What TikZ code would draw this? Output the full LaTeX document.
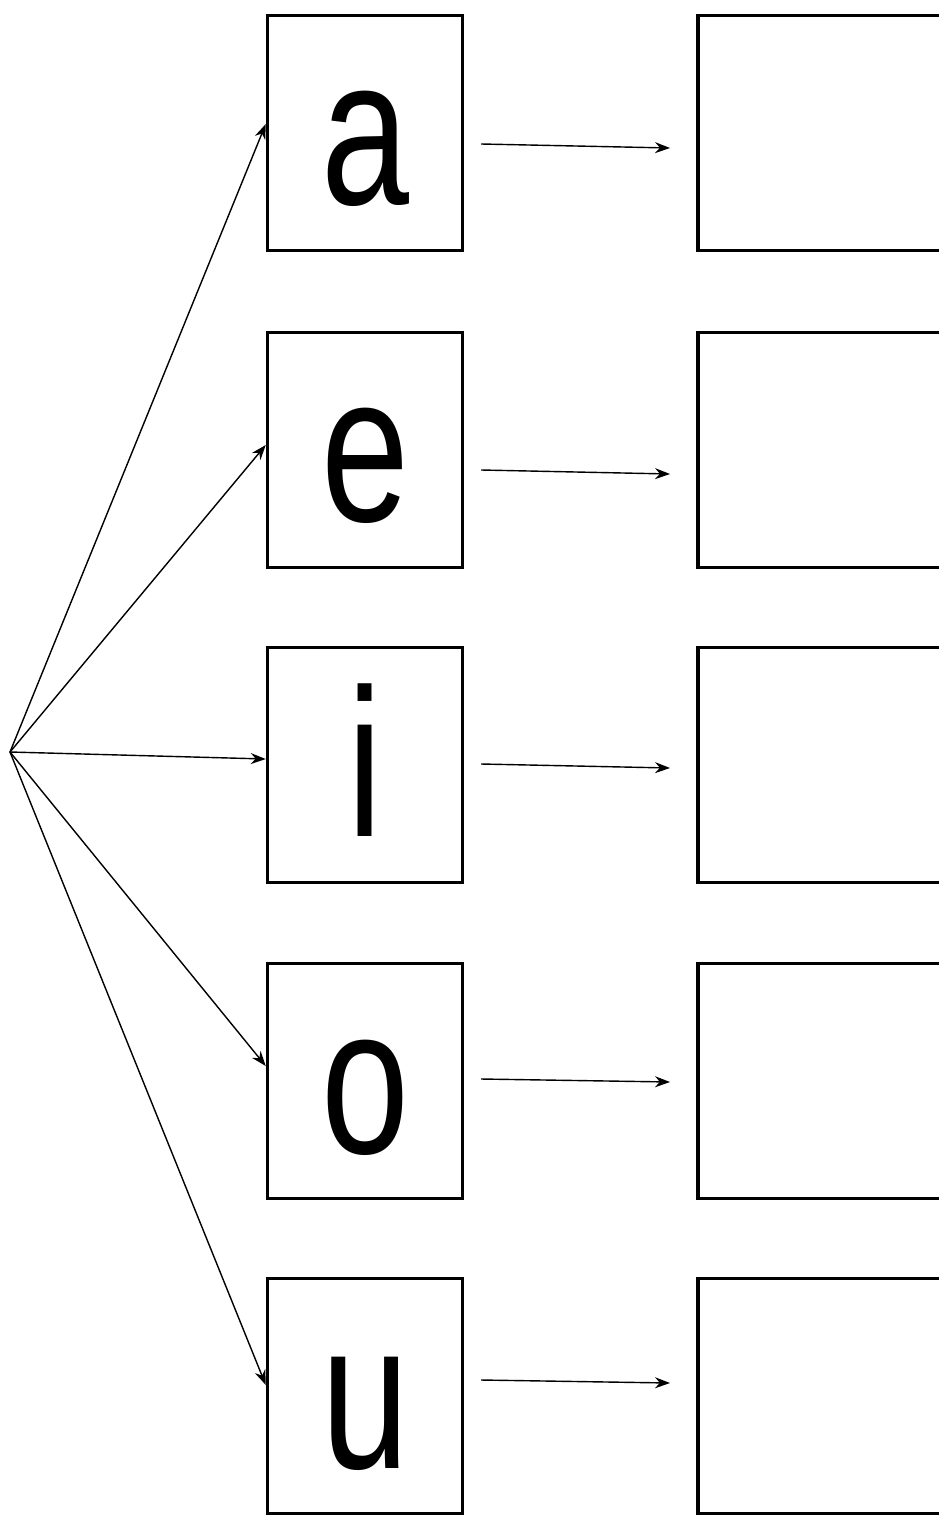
\documentclass[tikz,border=0pt]{standalone}
\usepackage{fontspec}
\setmainfont{Liberation Sans}
\usetikzlibrary{arrows.meta}
\newcommand{\vowel}[1]{\scalebox{0.75}[1]{\fontsize{120}{120}\selectfont #1}}
\begin{document}
\begin{tikzpicture}[x=0.02cm,y=-0.02cm,
	letterbox/.style={draw,line width=2pt,minimum width=3.9cm,minimum height=4.7cm,inner sep=0pt,text height=2.88cm,text depth=0cm},
	blankbox/.style={draw,line width=2pt,minimum width=6cm,minimum height=4.7cm,anchor=west},
	link/.style={line width=0.8pt,-{Stealth[length=0.3cm,width=0.22cm]}}]
		\useasboundingbox (0,0) rectangle (939,1518);
		\clip (0,0) rectangle (939,1518);
		%letters
		\node[letterbox] (a) at (365,133) {\vowel{a}};
		\node[letterbox] (e) at (365,450) {\vowel{e}};
		\node[letterbox] (i) at (365,765) {\vowel{i}};
		\node[letterbox] (o) at (365,1081) {\vowel{o}};
		\node[letterbox] (u) at (365,1396) {\vowel{u}};
		%empty boxes
		\node[blankbox] (ra) at (696,133) {};
		\node[blankbox] (re) at (696,450) {};
		\node[blankbox] (ri) at (696,765) {};
		\node[blankbox] (ro) at (696,1081) {};
		\node[blankbox] (ru) at (696,1396) {};
		%fan
		\coordinate (fan) at (10,752);
		\draw[link] (fan) -- ([yshift=0.18cm]a.west);
		\draw[link] (fan) -- ([yshift=0.1cm]e.west);
		\draw[link] (fan) -- ([yshift=0.12cm]i.west);
		\draw[link] (fan) -- ([yshift=0.3cm]o.west);
		\draw[link] (fan) -- ([yshift=0.22cm]u.west);
		%short arrows
		\draw[link] ([xshift=0.34cm,yshift=-0.22cm]a.east) -- ([xshift=-0.52cm,yshift=-0.3cm]ra.west);
		\draw[link] ([xshift=0.34cm,yshift=-0.4cm]e.east) -- ([xshift=-0.52cm,yshift=-0.48cm]re.west);
		\draw[link] ([xshift=0.34cm,yshift=0.02cm]i.east) -- ([xshift=-0.52cm,yshift=-0.06cm]ri.west);
		\draw[link] ([xshift=0.34cm,yshift=0.04cm]o.east) -- ([xshift=-0.52cm,yshift=-0.02cm]ro.west);
		\draw[link] ([xshift=0.34cm,yshift=0.32cm]u.east) -- ([xshift=-0.52cm,yshift=0.26cm]ru.west);
\end{tikzpicture}
\end{document}
